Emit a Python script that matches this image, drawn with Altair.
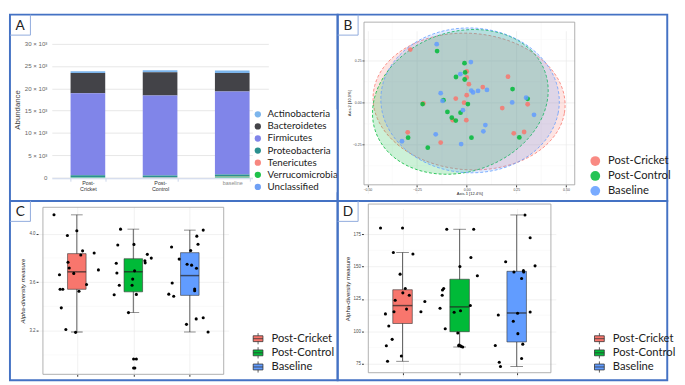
import altair as alt
import pandas as pd

# ------------------------------------------------------------------ data
# Panel A : stacked phylum abundance
phyla = ["Actinobacteria", "Bacteroidetes", "Firmicutes", "Proteobacteria",
         "Tenericutes", "Verrucomicrobia", "Unclassified"]
phyla_colors = ["#7cb5ec", "#434348", "#8085e9", "#2b908f",
                "#f7877f", "#1fc24a", "#6fa0f5"]
a_groups = ["Post-Cricket", "Post-Control", "baseline"]
ab_cricket = [400, 4500, 18350, 350, 30, 120, 50]
ab_control = [400, 5200, 17900, 320, 30, 100, 50]
ab_baseline = [550, 4100, 18550, 450, 40, 200, 60]
a_ticks = [0, 5000, 10000, 15000, 20000, 25000, 30000]

# Panel B : PCoA
groups = ["Post-Cricket", "Post-Control", "Baseline"]
group_colors = ["#f8766d", "#00ba38", "#619cff"]
b_cricket_x = [-0.284, -0.218, -0.297, -0.131, -0.070, -0.055, -0.013, -0.002, 0.0,
               0.0, 0.0, 0.011, 0.081, 0.208, 0.179, 0.237, 0.289, 0.307]
b_cricket_y = [0.316, -0.004, -0.176, -0.237, -0.104, 0.025, 0.0, -0.104, 0.045,
               0.186, 0.15, 0.11, 0.093, 0.155, -0.032, -0.182, -0.174, -0.009]
b_control_x = [-0.149, -0.011, -0.008, -0.054, -0.010, -0.117, -0.222, -0.097, -0.075,
               -0.055, -0.031, 0.006, -0.295, -0.196, 0.024, 0.231, 0.307, 0.265]
b_control_y = [0.307, 0.235, 0.18, 0.153, 0.138, 0.015, -0.008, -0.055, -0.089,
               -0.106, -0.059, -0.008, -0.208, -0.267, -0.208, 0.081, 0.023, -0.206]
b_base_x = [-0.151, 0.021, -0.032, -0.131, -0.122, 0.023, 0.032, 0.057, 0.102,
            -0.019, -0.156, -0.326, -0.028, 0.084, 0.094, 0.229, 0.299, 0.339]
b_base_y = [0.348, 0.242, 0.170, 0.057, 0.011, 0.072, 0.061, 0.070, 0.076,
            -0.044, -0.188, -0.229, -0.246, -0.170, -0.133, 0.002, 0.030, -0.072]
# ellipse parameters (centre, semi axes, rotation in degrees)
ell_cx = [0.012, -0.032, 0.017]
ell_cy = [0.007, 0.005, 0.014]
ell_a = [0.485, 0.47, 0.45]
ell_b = [0.405, 0.40, 0.43]
ell_rot = [-8, 40, -10]
b_xdom = [-0.517, 0.544]
b_ydom = [-0.488, 0.479]
b_xticks = [-0.5, -0.25, 0.0, 0.25, 0.5]
b_yticks = [-0.25, 0.0, 0.25]
b_xminor = [-0.375, -0.125, 0.125, 0.375]
b_yminor = [-0.375, -0.125, 0.125, 0.375]

# Panel C : Shannon alpha diversity
c_lo = [3.189, 3.349, 3.189]
c_q1 = [3.541, 3.520, 3.491]
c_med = [3.685, 3.685, 3.654]
c_q3 = [3.835, 3.793, 3.843]
c_hi = [4.155, 4.037, 4.029]
c_cricket_y = [4.155, 4.024, 3.984, 3.858, 3.824, 3.840, 3.764, 3.717, 3.672, 3.661,
               3.701, 3.580, 3.541, 3.541, 3.525, 3.388, 3.210, 3.186]
c_cricket_dx = [-0.404, 0.0, -0.167, 0.102, 0.070, 0.307, -0.156, -0.135, -0.054, -0.307,
                0.382, 0.172, -0.296, -0.248, 0.038, -0.275, -0.194, -0.022]
c_control_y = [4.037, 3.906, 3.911, 3.829, 3.777, 3.759, 3.798, 3.756, 3.675, 3.693,
               3.575, 3.625, 3.575, 3.499, 3.496, 3.349, 2.966, 2.966, 2.892, 2.892]
c_control_dx = [-0.226, -0.275, 0.011, 0.248, 0.205, 0.210, 0.318, -0.302, -0.291, 0.022,
                -0.248, -0.011, -0.022, 0.054, -0.339, -0.086, 0.005, 0.054, 0.005, 0.027]
c_base_y = [4.029, 3.979, 3.913, 3.890, 3.861, 3.790, 3.748, 3.740, 3.714, 3.593,
            3.543, 3.530, 3.501, 3.483, 3.297, 3.307, 3.252, 3.189]
c_base_dx = [0.237, 0.124, 0.145, -0.323, 0.016, -0.188, -0.048, 0.032, 0.118, -0.312,
             0.086, 0.086, -0.372, -0.285, 0.113, 0.237, -0.059, 0.323]
c_ydom = [2.84, 4.217]
c_yticks = [3.2, 3.6, 4.0]
c_yminor = [3.0, 3.4, 3.8, 4.2]

# Panel D : observed richness
d_lo = [77.0, 88.0, 73.0]
d_q1 = [106.1, 99.8, 91.9]
d_med = [119.9, 118.9, 114.2]
d_q3 = [132.1, 140.2, 146.3]
d_hi = [160.8, 178.7, 189.7]
d_cricket_y = [179.7, 179.7, 160.8, 159.6, 144.1, 133.1, 129.7, 127.9, 124.0, 123.0,
               115.2, 115.2, 117.2, 113.5, 104.2, 93.9, 89.0, 81.1, 77.0]
d_cricket_dx = [-0.386, 0.0, -0.161, 0.182, -0.043, 0.048, 0.005, 0.118, -0.129, 0.391,
                -0.15, 0.322, 0.07, -0.30, -0.241, -0.182, -0.284, -0.021, -0.263]
d_control_y = [178.7, 178.7, 156.9, 150.0, 142.9, 133.1, 131.9, 127.9, 119.9, 117.9,
               114.7, 115.9, 102.0, 98.8, 89.5, 89.0, 88.5, 88.0, 89.0]
d_control_dx = [-0.225, 0.247, 0.198, 0.005, 0.311, -0.279, -0.300, -0.305, 0.188, -0.343,
                -0.096, 0.016, -0.252, -0.032, -0.011, 0.011, 0.027, 0.054, -0.016]
d_base_y = [189.7, 172.1, 153.7, 150.5, 145.8, 146.8, 145.8, 140.7, 115.0, 114.0,
            112.7, 107.8, 98.3, 90.2, 89.2, 76.2, 79.2, 73.0]
d_base_dx = [0.145, 0.236, -0.193, 0.322, -0.048, 0.118, 0.123, 0.086, 0.236, 0.016,
             -0.322, -0.059, 0.021, 0.107, -0.375, -0.305, 0.086, -0.284]
d_ydom = [68.2, 198.1]
d_yticks = [75, 100, 125, 150, 175]
d_yminor = [87.5, 112.5, 137.5, 162.5, 187.5]
box_xdom = [0.4, 3.6]

# ------------------------------------------------------------------ style
FRAME = "#4472c4"
TAB = "#8faadc"
LEGFONT = "Lato"
GRID = "#ebebeb"
MINOR = "#f5f5f5"
one = alt.Data(values=[{"k": 1}])


def tf(ox, oy, w_ref, h_ref, w, h):
    sx, sy = w / w_ref, h / h_ref
    return (lambda X: (X - ox) * sx), (lambda Y: (Y - oy) * sy)


def tab_layers(letter):
    r1 = alt.Chart(one).mark_rule(color=TAB, strokeWidth=1).encode(
        x=alt.value(21), y=alt.value(0), y2=alt.value(21))
    r2 = alt.Chart(one).mark_rule(color=TAB, strokeWidth=1).encode(
        x=alt.value(0), x2=alt.value(21), y=alt.value(21))
    t = alt.Chart(one).mark_text(font=LEGFONT, fontSize=14, color="#222",
                                 align="center", baseline="middle").encode(
        x=alt.value(10.5), y=alt.value(11.5), text=alt.value(letter))
    return [r1, r2, t]


# ------------------------------------------------------------------ panel A
WA, HA = 336, 191
fxA, fyA = tf(1.5, 1.5, 340.5, 193.5, WA, HA)
rowsA = []
for g, vals in zip(a_groups, [ab_cricket, ab_control, ab_baseline]):
    for i, (p, v) in enumerate(zip(phyla, vals)):
        rowsA.append({"Group": g, "Phylum": p, "Abundance": v, "rank": i})
dfA = pd.DataFrame(rowsA)

barsA = alt.Chart(dfA).mark_bar().encode(
    x=alt.X("Group:N", sort=a_groups,
            scale=alt.Scale(range=[fxA(45), fxA(270)], paddingInner=0.52, paddingOuter=0.26),
            axis=alt.Axis(title=None, labelAngle=0, tickBand="extent", domain=True,
                          domainColor="#ccd6eb", tickColor="#ccd6eb", tickSize=3,
                          labelFontSize=5.5, labelLineHeight=6.5, labelPadding=-1,
                          labelColor={"condition": {"test": "datum.label == 'baseline'",
                                                    "value": "#8a8a8a"}, "value": "#333"},
                          labelExpr="split(replace(datum.label, '-', '-|'), '|')",
                          offset=-(HA - fyA(171.5)), grid=False)),
    y=alt.Y("Abundance:Q", stack="zero",
            scale=alt.Scale(domain=[0, 30000], range=[fyA(171), fyA(31.5)], nice=False),
            axis=alt.Axis(values=a_ticks, grid=True, gridColor="#e6e6e6", domain=False,
                          ticks=False, tickSize=0, labelFontSize=6.3, labelColor="#666",
                          labelPadding=5,
                          labelExpr="datum.value == 0 ? '0' : format(datum.value/1000, 'd') + ' × 10³'",
                          offset=-fxA(45), title="Abundance", titleFontSize=8,
                          titleFontWeight="normal", titleColor="#444",
                          titleX=fxA(9.5) - fxA(45), titleY=fyA(100),
                          titleAlign="center", titleBaseline="middle")),
    color=alt.Color("Phylum:N", sort=phyla,
                    scale=alt.Scale(domain=phyla, range=phyla_colors),
                    legend=alt.Legend(title=None, orient="none", legendX=fxA(254),
                                      legendY=fyA(100), symbolType="circle", symbolSize=42,
                                      labelFont=LEGFONT, labelFontSize=10, labelColor="#222",
                                      rowPadding=2.4, fillColor="white", padding=0,
                                      labelOffset=5)),
    order=alt.Order("rank:Q", sort="descending"),
)
panelA = alt.layer(barsA, *tab_layers("A")).properties(width=WA, height=HA)

# ------------------------------------------------------------------ panel B
WB, HB = 338, 191
fxB, fyB = tf(342, 1.5, 341, 193.5, WB, HB)
sxB = alt.Scale(domain=b_xdom, range=[fxB(369.3), fxB(587.3)], nice=False, zero=False)
syB = alt.Scale(domain=b_ydom, range=[fyB(178.3), fyB(9.3)], nice=False, zero=False)
axB_x = alt.Axis(values=b_xticks, format=".2f", labelFontSize=3.6, labelColor="#4d4d4d",
                 tickColor="#333", tickSize=2, labelPadding=1, domain=False, grid=True,
                 gridColor=GRID, gridWidth=0.7, offset=-(HB - fyB(178.3)),
                 title="Axis.1   [12.4%]", titleFontSize=4.2, titleFontWeight="normal",
                 titleColor="#222", titleY=fyB(187.7) - fyB(178.3),
                 titleBaseline="middle")
axB_y = alt.Axis(values=b_yticks, format=".2f", labelFontSize=3.6, labelColor="#4d4d4d",
                 tickColor="#333", tickSize=2, labelPadding=1, domain=False, grid=True,
                 gridColor=GRID, gridWidth=0.7, offset=-fxB(369.3),
                 title="Axis.2   [10.9%]", titleFontSize=4.2, titleFontWeight="normal",
                 titleColor="#222", titleX=fxB(354.7) - fxB(369.3), titleY=fyB(93),
                 titleAlign="center", titleBaseline="middle")

rowsB = []
for g, xs, ys in zip(groups, [b_cricket_x, b_control_x, b_base_x],
                     [b_cricket_y, b_control_y, b_base_y]):
    for xv, yv in zip(xs, ys):
        rowsB.append({"Group": g, "Axis1": xv, "Axis2": yv})
dfB = pd.DataFrame(rowsB)

minorBx = alt.Chart(pd.DataFrame({"Axis1": b_xminor})).mark_rule(
    color=MINOR, strokeWidth=0.5).encode(
    x=alt.X("Axis1:Q", scale=sxB, axis=axB_x),
    y=alt.YDatum(b_ydom[0], scale=syB, axis=axB_y), y2=alt.Y2Datum(b_ydom[1]))
minorBy = alt.Chart(pd.DataFrame({"Axis2": b_yminor})).mark_rule(
    color=MINOR, strokeWidth=0.5).encode(
    y=alt.Y("Axis2:Q", scale=syB, axis=axB_y),
    x=alt.XDatum(b_xdom[0], scale=sxB, axis=axB_x), x2=alt.X2Datum(b_xdom[1]))

ellipses = []
for i in range(3):
    th = ell_rot[i] * 3.141592653589793 / 180
    ell = alt.Chart(alt.sequence(0, 361, 4, as_="deg")).transform_calculate(
        t="datum.deg * PI / 180",
    ).transform_calculate(
        Axis1=f"{ell_cx[i]} + {ell_a[i]}*cos(datum.t)*cos({th}) - {ell_b[i]}*sin(datum.t)*sin({th})",
        Axis2=f"{ell_cy[i]} + {ell_a[i]}*cos(datum.t)*sin({th}) + {ell_b[i]}*sin(datum.t)*cos({th})",
    ).mark_line(fill=group_colors[i], fillOpacity=0.2, stroke=group_colors[i],
                strokeDash=[3, 2], strokeWidth=0.8, interpolate="linear-closed").encode(
        x=alt.X("Axis1:Q", scale=sxB, axis=axB_x),
        y=alt.Y("Axis2:Q", scale=syB, axis=axB_y),
        order="deg:Q")
    ellipses.append(ell)

pointsB = alt.Chart(dfB).mark_circle(size=24, opacity=0.85).encode(
    x=alt.X("Axis1:Q", scale=sxB, axis=axB_x),
    y=alt.Y("Axis2:Q", scale=syB, axis=axB_y),
    color=alt.Color("Group:N", sort=groups,
                    scale=alt.Scale(domain=groups, range=group_colors),
                    legend=alt.Legend(title=None, orient="none", legendX=fxB(602.5),
                                      legendY=fyB(147.5), symbolType="circle",
                                      symbolSize=100, symbolOpacity=0.85,
                                      labelFont=LEGFONT, labelFontSize=11.5,
                                      labelColor="#222", rowPadding=3.3, labelOffset=7,
                                      padding=0)))
frameB = alt.Chart(one).mark_rect(fill="transparent", stroke="#9a9a9a", strokeWidth=0.8).encode(
    x=alt.XDatum(b_xdom[0], scale=sxB, axis=axB_x), x2=alt.X2Datum(b_xdom[1]),
    y=alt.YDatum(b_ydom[0], scale=syB, axis=axB_y), y2=alt.Y2Datum(b_ydom[1]))

panelB = alt.layer(minorBx, minorBy, *ellipses, pointsB, frameB,
                   *tab_layers("B")).properties(width=WB, height=HB)


# ------------------------------------------------------------------ panels C and D
def box_panel(letter, fx, fy, W, H, plot_ref, ydom, yticks, yminor, yfmt,
              lo, q1, med, q3, hi, pts_y, pts_dx, italic, legend_ref, title_ref,
              box_w, cap_w):
    left, right, top, bottom = plot_ref
    sx = alt.Scale(domain=box_xdom, range=[fx(left), fx(right)], nice=False, zero=False)
    sy = alt.Scale(domain=ydom, range=[fy(bottom), fy(top)], nice=False, zero=False)
    axx = alt.Axis(values=[1, 2, 3], labels=False, tickColor="#333", tickSize=2,
                   domain=False, grid=True, gridColor=GRID, gridWidth=0.7,
                   offset=-(H - fy(bottom)), title=None)
    tx, ty = title_ref
    axy = alt.Axis(values=yticks, format=yfmt, labelFontSize=4.6, labelColor="#4d4d4d",
                   tickColor="#333", tickSize=2, labelPadding=1, domain=False, grid=True,
                   gridColor=GRID, gridWidth=0.7, offset=-fx(left),
                   title="Alpha-diversity measure", titleFontSize=6.2,
                   titleFontWeight="normal", titleColor="#222",
                   titleFontStyle="italic" if italic else "normal",
                   titleX=fx(tx) - fx(left), titleY=fy(ty),
                   titleAlign="center", titleBaseline="middle")

    boxes = pd.DataFrame({"Group": groups, "pos": [1, 2, 3], "lo": lo, "q1": q1,
                          "med": med, "q3": q3, "hi": hi})
    prow = []
    for k, (ys, dxs) in enumerate(zip(pts_y, pts_dx)):
        for yv, dv in zip(ys, dxs):
            prow.append({"x": k + 1 + dv, "y": yv})
    pts = pd.DataFrame(prow)

    minor = alt.Chart(pd.DataFrame({"y": yminor})).mark_rule(
        color=MINOR, strokeWidth=0.5).encode(
        y=alt.Y("y:Q", scale=sy, axis=axy),
        x=alt.XDatum(box_xdom[0], scale=sx, axis=axx), x2=alt.X2Datum(box_xdom[1]))
    base = alt.Chart(boxes)
    whisk = base.mark_rule(color="#333", strokeWidth=0.8).encode(
        x=alt.X("pos:Q", scale=sx, axis=axx),
        y=alt.Y("lo:Q", scale=sy, axis=axy), y2="hi:Q")
    cap_lo = base.mark_tick(orient="horizontal", size=cap_w, thickness=0.8, color="#333").encode(
        x=alt.X("pos:Q", scale=sx, axis=axx), y=alt.Y("lo:Q", scale=sy, axis=axy))
    cap_hi = base.mark_tick(orient="horizontal", size=cap_w, thickness=0.8, color="#333").encode(
        x=alt.X("pos:Q", scale=sx, axis=axx), y=alt.Y("hi:Q", scale=sy, axis=axy))
    lx, ly = legend_ref
    box = base.mark_bar(size=box_w, stroke="#333", strokeWidth=0.6).encode(
        x=alt.X("pos:Q", scale=sx, axis=axx),
        y=alt.Y("q1:Q", scale=sy, axis=axy), y2="q3:Q",
        color=alt.Color("Group:N", sort=groups,
                        scale=alt.Scale(domain=groups, range=group_colors),
                        legend=alt.Legend(title=None, orient="none", legendX=fx(lx),
                                          legendY=fy(ly),
                                          symbolType="M-1,-0.6H1V0.6H-1Z M-1,0H1 M0,-1.15V-0.6 M0,0.6V1.15",
                                          symbolSize=100, symbolStrokeColor="#333",
                                          symbolStrokeWidth=0.8, labelFont=LEGFONT,
                                          labelFontSize=11.5, labelColor="#222",
                                          rowPadding=-1.5, labelOffset=8, padding=0)))
    medl = base.mark_tick(orient="horizontal", size=box_w, thickness=1.5, color="#222").encode(
        x=alt.X("pos:Q", scale=sx, axis=axx), y=alt.Y("med:Q", scale=sy, axis=axy))
    points = alt.Chart(pts).mark_circle(size=10, color="black", opacity=1).encode(
        x=alt.X("x:Q", scale=sx, axis=axx), y=alt.Y("y:Q", scale=sy, axis=axy))
    frame = alt.Chart(one).mark_rect(fill="transparent", stroke="#9a9a9a", strokeWidth=0.8).encode(
        x=alt.XDatum(box_xdom[0], scale=sx, axis=axx), x2=alt.X2Datum(box_xdom[1]),
        y=alt.YDatum(ydom[0], scale=sy, axis=axy), y2=alt.Y2Datum(ydom[1]))
    return alt.layer(minor, whisk, cap_lo, cap_hi, box, medl, points, frame,
                     *tab_layers(letter)).properties(width=W, height=H)


WC, HC = 336, 184
fxC, fyC = tf(1.5, 195, 340.5, 188, WC, HC)
panelC = box_panel("C", fxC, fyC, WC, HC, (30.7, 228.7, 201.7, 376.7), c_ydom, c_yticks,
                   c_yminor, ".1f", c_lo, c_q1, c_med, c_q3, c_hi,
                   [c_cricket_y, c_control_y, c_base_y], [c_cricket_dx, c_control_dx, c_base_dx],
                   True, (253.5, 333.5), (14.7, 289), 19, 12)

WD, HD = 338, 184
fxD, fyD = tf(342, 195, 341, 188, WD, HD)
panelD = box_panel("D", fxD, fyD, WD, HD, (368.7, 567.7, 198.3, 375), d_ydom, d_yticks,
                   d_yminor, "d", d_lo, d_q1, d_med, d_q3, d_hi,
                   [d_cricket_y, d_control_y, d_base_y], [d_cricket_dx, d_control_dx, d_base_dx],
                   False, (607, 333.5), (352.7, 286.7), 20, 13)

# ------------------------------------------------------------------ assemble
chart = alt.concat(panelA, panelB, panelC, panelD, columns=2, spacing=0,
                   bounds="flush", align="each").resolve_scale(
    color="independent").resolve_legend(color="independent").properties(
    padding=0, background="white"
).configure(font="Liberation Sans").configure_view(stroke=FRAME, strokeWidth=2)

chart.save("out.html", embed_options={"renderer": "svg", "actions": False})
